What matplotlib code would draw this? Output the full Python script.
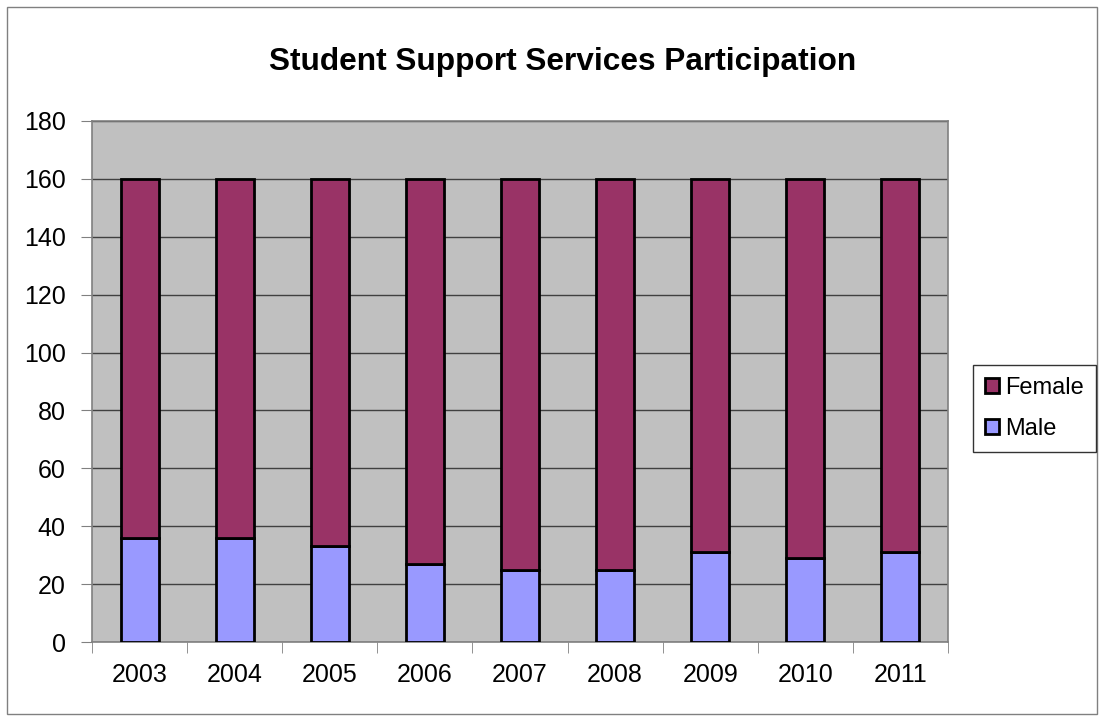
import matplotlib
matplotlib.use('Agg')
import matplotlib.pyplot as plt
from matplotlib.patches import Rectangle
import numpy as np

plt.rcParams['font.family'] = ['Liberation Sans', 'DejaVu Sans']

years = ['2003', '2004', '2005', '2006', '2007', '2008', '2009', '2010', '2011']
male = [36, 36, 33, 27, 25, 25, 31, 29, 31]
female = [124, 124, 127, 133, 135, 135, 129, 131, 129]

fig = plt.figure(figsize=(11.04, 7.21), dpi=100)
# outer chart border
fig.patches.append(Rectangle((0.006, 0.01), 0.988, 0.98, transform=fig.transFigure,
                             fill=False, edgecolor='#808080', linewidth=1.0))

ax = fig.add_axes([92 / 1104, 1 - 642 / 721, 856 / 1104, 521 / 721])
ax.set_facecolor('#C0C0C0')

x = np.arange(len(years))
ax.bar(x, male, width=0.4, color='#9999FF', edgecolor='black', linewidth=2, label='Male', zorder=3)
ax.bar(x, female, width=0.4, bottom=male, color='#993366', edgecolor='black', linewidth=2,
       label='Female', zorder=3)

ax.set_xlim(-0.5, len(years) - 0.5)
ax.set_ylim(0, 180)
ax.set_yticks(range(0, 181, 20))
ax.yaxis.grid(True, color='#404040', linewidth=1.0, zorder=0)
ax.set_axisbelow(True)

ax.set_xticks(x)
ax.set_xticklabels(years)
ax.set_xticks(np.arange(-0.5, len(years), 1), minor=True)
ax.tick_params(axis='x', which='major', length=0, pad=15, labelsize=18)
ax.tick_params(axis='x', which='minor', length=8, color='#808080', direction='out')
ax.tick_params(axis='y', length=8, color='#808080', direction='out', labelsize=18, pad=11)

for s in ax.spines.values():
    s.set_color('#808080')
    s.set_linewidth(1.2)

# title sits centred on the whole chart area, not the plot area
ax.set_title('Student Support Services Participation', fontsize=22.8, fontweight='bold',
             pad=37, x=(563 - 92) / 856)

handles, labels = ax.get_legend_handles_labels()
leg = fig.legend(handles[::-1], labels[::-1], loc='center left',
                 bbox_to_anchor=(973 / 1104, 1 - 408.5 / 721), fontsize=17, frameon=True,
                 fancybox=False, edgecolor='black', handlelength=0.62, handleheight=0.62,
                 handletextpad=0.25, borderpad=0.5, labelspacing=0.8, borderaxespad=0)
leg.get_frame().set_linewidth(1.0)

fig.savefig('out.png', dpi=100)
